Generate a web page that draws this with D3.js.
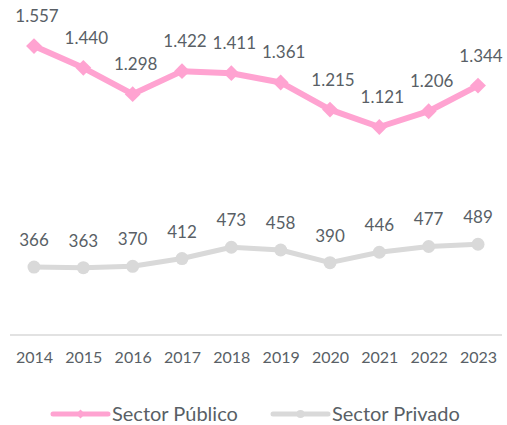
<!DOCTYPE html>
<html>
<head>
<meta charset="utf-8">
<script src="https://cdn.jsdelivr.net/npm/d3@7"></script>
<style>
  body { margin: 0; background: #fff; }
  text { font-family: "Lato", "DejaVu Sans", sans-serif; fill: #595f66; }
</style>
</head>
<body>
<svg id="chart" width="507" height="425"></svg>
<script>
var years = ["2014", "2015", "2016", "2017", "2018", "2019", "2020", "2021", "2022", "2023"];
var publico = [1557, 1440, 1298, 1422, 1411, 1361, 1215, 1121, 1206, 1344];
var privado = [366, 363, 370, 412, 473, 458, 390, 446, 477, 489];
var seriesNames = ["Sector Público", "Sector Privado"];

var width = 507;
var height = 425;
var pink = "#ffa3d1";
var grey = "#d9d9d9";

var svg = d3.select("#chart");

var x = d3.scalePoint()
    .domain(years)
    .range([34, 478]);

var y = d3.scaleLinear()
    .domain([0, 1800])
    .range([335, 1]);

// fmt numbers the spanish way: 1.557
function fmt(v) {
    return d3.format(",")(v).replace(/,/g, ".");
}

// baseline
svg.append("line")
    .attr("x1", 10).attr("x2", 502)
    .attr("y1", y(0)).attr("y2", y(0))
    .attr("stroke", grey)
    .attr("stroke-width", 1.5);

var xAxis = d3.axisBottom(x).tickSize(0).tickPadding(0);
var gx = svg.append("g")
    .attr("transform", `translate(0, ${y(0) + 28})`)
    .call(xAxis);
gx.select(".domain").remove();
gx.selectAll("text")
    .attr("dy", 0)
    .style("font-size", "16px")
    .style("font-family", "Lato")
    .attr("fill", "#595f66");

var line = d3.line()
    .x((d, i) => x(years[i]))
    .y(d => y(d));

// publico
svg.append("path")
    .attr("d", line(publico))
    .attr("fill", "none")
    .attr("stroke", pink)
    .attr("stroke-width", 6)
    .attr("stroke-linejoin", "round");

svg.append("g").selectAll("path")
    .data(publico)
    .enter()
    .append("path")
    .attr("d", d3.symbol().type(d3.symbolDiamond2).size(160))
    .attr("transform", (d, i) => `translate(${x(years[i])}, ${y(d)})`)
    .attr("fill", pink);

svg.append("g").selectAll("text")
    .data(publico)
    .enter()
    .append("text")
    .attr("x", (d, i) => x(years[i]) + 3)
    .attr("y", d => y(d) - 24)
    .attr("text-anchor", "middle")
    .style("font-size", "17px")
    .text(d => fmt(d));

// privado
svg.append("path")
    .attr("d", line(privado))
    .attr("fill", "none")
    .attr("stroke", grey)
    .attr("stroke-width", 5)
    .attr("stroke-linejoin", "round");

svg.append("g").selectAll("circle")
    .data(privado)
    .enter()
    .append("circle")
    .attr("cx", (d, i) => x(years[i]))
    .attr("cy", d => y(d))
    .attr("r", 6.5)
    .attr("fill", grey);

svg.append("g").selectAll("text")
    .data(privado)
    .enter()
    .append("text")
    .attr("x", (d, i) => x(years[i]))
    .attr("y", d => y(d) - 21)
    .attr("text-anchor", "middle")
    .style("font-size", "17px")
    .text(d => fmt(d));

// legend
var legend = svg.append("g");
var legendX = [53, 273];
var legendColors = [pink, grey];
seriesNames.forEach(function (name, i) {
    var g = legend.append("g").attr("transform", `translate(${legendX[i]}, 414)`);
    g.append("line")
        .attr("x1", 0).attr("x2", 55)
        .attr("y1", 0).attr("y2", 0)
        .attr("stroke", legendColors[i])
        .attr("stroke-width", 5)
        .attr("stroke-linecap", "round");
    if (i == 0) {
        g.append("path")
            .attr("d", d3.symbol().type(d3.symbolDiamond2).size(50))
            .attr("transform", "translate(27.5, 0)")
            .attr("fill", pink);
    } else {
        g.append("circle").attr("cx", 27.5).attr("cy", 0).attr("r", 4).attr("fill", grey);
    }
    g.append("text")
        .attr("x", 59)
        .attr("y", 7)
        .style("font-size", "20px")
        .text(name);
});
</script>
</body>
</html>
